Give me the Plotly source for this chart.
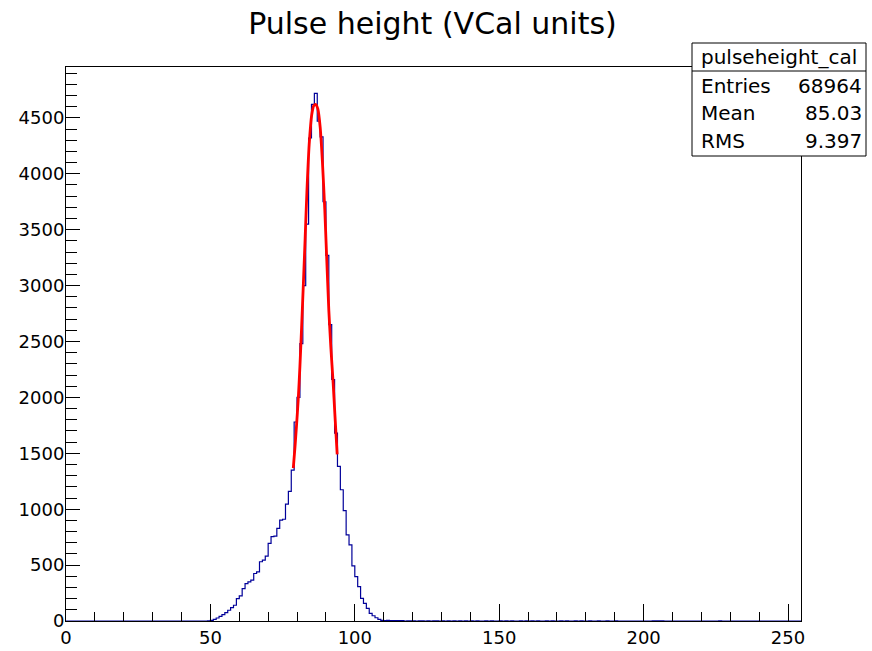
import plotly.graph_objects as go

# ---------------- data ----------------
hist_name = "pulseheight_cal"
title_text = "Pulse height (VCal units)"
n_bins = 255            # bins of width 1 starting at 0
hist_first_bin = 48     # first bin of the dense block below
hist_counts = [0, 2, 6, 15, 27, 42, 57, 75, 96, 120,
               141, 200, 224, 290, 335, 350, 365, 425, 440, 530,
               545, 580, 694, 754, 760, 828, 903, 910, 1046, 1160,
               1350, 1780, 2000, 2480, 3000, 3550, 4320, 4620, 4719, 4470,
               4330, 3750, 3270, 2650, 2160, 1680, 1383, 1174, 988, 771,
               681, 493, 397, 308, 203, 158, 113, 68, 47, 29,
               14, 6, 3]
sparse_bins = [111, 112, 113, 114, 115, 116, 118, 119, 120, 122, 123, 125, 127, 128,
               130, 132, 134, 136, 138, 140, 142, 145, 147, 150, 152, 154, 157, 159,
               161, 163, 166, 168, 171, 173, 176, 178, 181, 184, 187, 190,
               203, 204, 205, 206, 226]
sparse_counts = [5, 4, 4, 3, 3, 3, 2, 2, 2, 2, 2, 2, 2, 2,
                 2, 2, 2, 2, 2, 2, 2, 2, 2, 1, 2, 1, 2, 1,
                 1, 2, 1, 1, 1, 1, 1, 1, 1, 1, 1, 1,
                 1, 1, 1, 1, 1]

# red fit curve
fit_x = [78.7, 79.3, 79.8, 80.4, 81.0, 81.6, 82.2, 82.8, 83.4, 84.2, 85.1, 85.8,
         86.5, 87.2, 88.0, 88.8, 89.6, 90.2, 91.0, 91.7, 92.5, 93.1, 93.9]
fit_y = [1367, 1560, 1741, 1977, 2279, 2640, 3020, 3420, 3830, 4260, 4530, 4610,
         4620, 4580, 4420, 4100, 3680, 3290, 2780, 2450, 2130, 1850, 1490]

stats_labels = ["Entries", "Mean", "RMS"]
stats_values = ["68964", "85.03", "9.397"]

x_range = [0, 254.5]
y_range = [0, 4955]

# ---------------- build histogram arrays ----------------
counts = [0] * n_bins
for i, c in enumerate(hist_counts):
    counts[hist_first_bin + i] = c
for b, c in zip(sparse_bins, sparse_counts):
    counts[b] = c
edges = list(range(n_bins + 1))
step_x = edges
step_y = counts + [counts[-1]]

# ---------------- layout geometry ----------------
W, H = 872, 651
L, R, T, B = 66, 71, 67, 30
PW = W - L - R
PH = H - T - B
FONT = "DejaVu Sans"


def px2x(px):
    return (px - L) / PW


def py2y(py):
    return (H - B - py) / PH


fig = go.Figure()
fig.add_trace(go.Scatter(x=step_x, y=step_y, mode="lines",
                         line=dict(color="#000099", width=1.2, shape="hv"),
                         hoverinfo="skip", showlegend=False))
fig.add_trace(go.Scatter(x=fit_x, y=fit_y, mode="lines",
                         line=dict(color="#ff0000", width=2.8, shape="spline", smoothing=0.6),
                         hoverinfo="skip", showlegend=False))

axis_common = dict(showline=True, linecolor="black", linewidth=1, mirror=True,
                   ticks="inside", tickcolor="black", tickwidth=1,
                   showgrid=False, zeroline=False, automargin=False,
                   tickfont=dict(family=FONT, size=18, color="black"))
fig.update_xaxes(range=x_range, dtick=50, tick0=0, ticklen=17, ticklabelstandoff=0,
                 minor=dict(ticks="inside", ticklen=9, dtick=10, tick0=0,
                            tickcolor="black", tickwidth=1, showgrid=False),
                 **axis_common)
fig.update_yaxes(range=y_range, dtick=500, tick0=0, ticklen=14, ticklabelstandoff=-3,
                 minor=dict(ticks="inside", ticklen=11, dtick=100, tick0=0,
                            tickcolor="black", tickwidth=1, showgrid=False),
                 **axis_common)

# stats box
bx0, bx1, by0, by1, bsep = 692, 866, 43, 156, 71
shapes = [
    dict(type="rect", xref="paper", yref="paper",
         x0=px2x(bx0), x1=px2x(bx1), y0=py2y(by1), y1=py2y(by0),
         line=dict(color="black", width=1), fillcolor="white", layer="above"),
    dict(type="line", xref="paper", yref="paper",
         x0=px2x(bx0), x1=px2x(bx1), y0=py2y(bsep), y1=py2y(bsep),
         line=dict(color="black", width=1), layer="above"),
]
annotations = [dict(text=hist_name, xref="paper", yref="paper",
                    x=px2x((bx0 + bx1) / 2), y=py2y(57.5), xanchor="center", yanchor="middle",
                    showarrow=False, font=dict(family=FONT, size=20, color="black"))]
row_y = [86.5, 113.5, 141]
for lab, val, ry in zip(stats_labels, stats_values, row_y):
    annotations.append(dict(text=lab, xref="paper", yref="paper", x=px2x(699), y=py2y(ry),
                            xanchor="left", yanchor="middle", showarrow=False,
                            font=dict(family=FONT, size=20, color="black")))
    annotations.append(dict(text=val, xref="paper", yref="paper", x=px2x(864), y=py2y(ry),
                            xanchor="right", yanchor="middle", showarrow=False,
                            font=dict(family=FONT, size=20, color="black")))

fig.update_layout(
    width=W, height=H,
    margin=dict(l=L, r=R, t=T, b=B, pad=0, autoexpand=False),
    paper_bgcolor="white", plot_bgcolor="white",
    title=dict(text=title_text, x=432.5 / W, xref="container", xanchor="center",
               y=1 - 23 / H, yref="container", yanchor="middle", automargin=False,
               font=dict(family=FONT, size=30, color="black")),
    shapes=shapes, annotations=annotations, showlegend=False,
)

fig.write_html("out.html", config={"displayModeBar": False},
               post_script="document.body.style.margin='0px';document.body.style.overflow='hidden';")
